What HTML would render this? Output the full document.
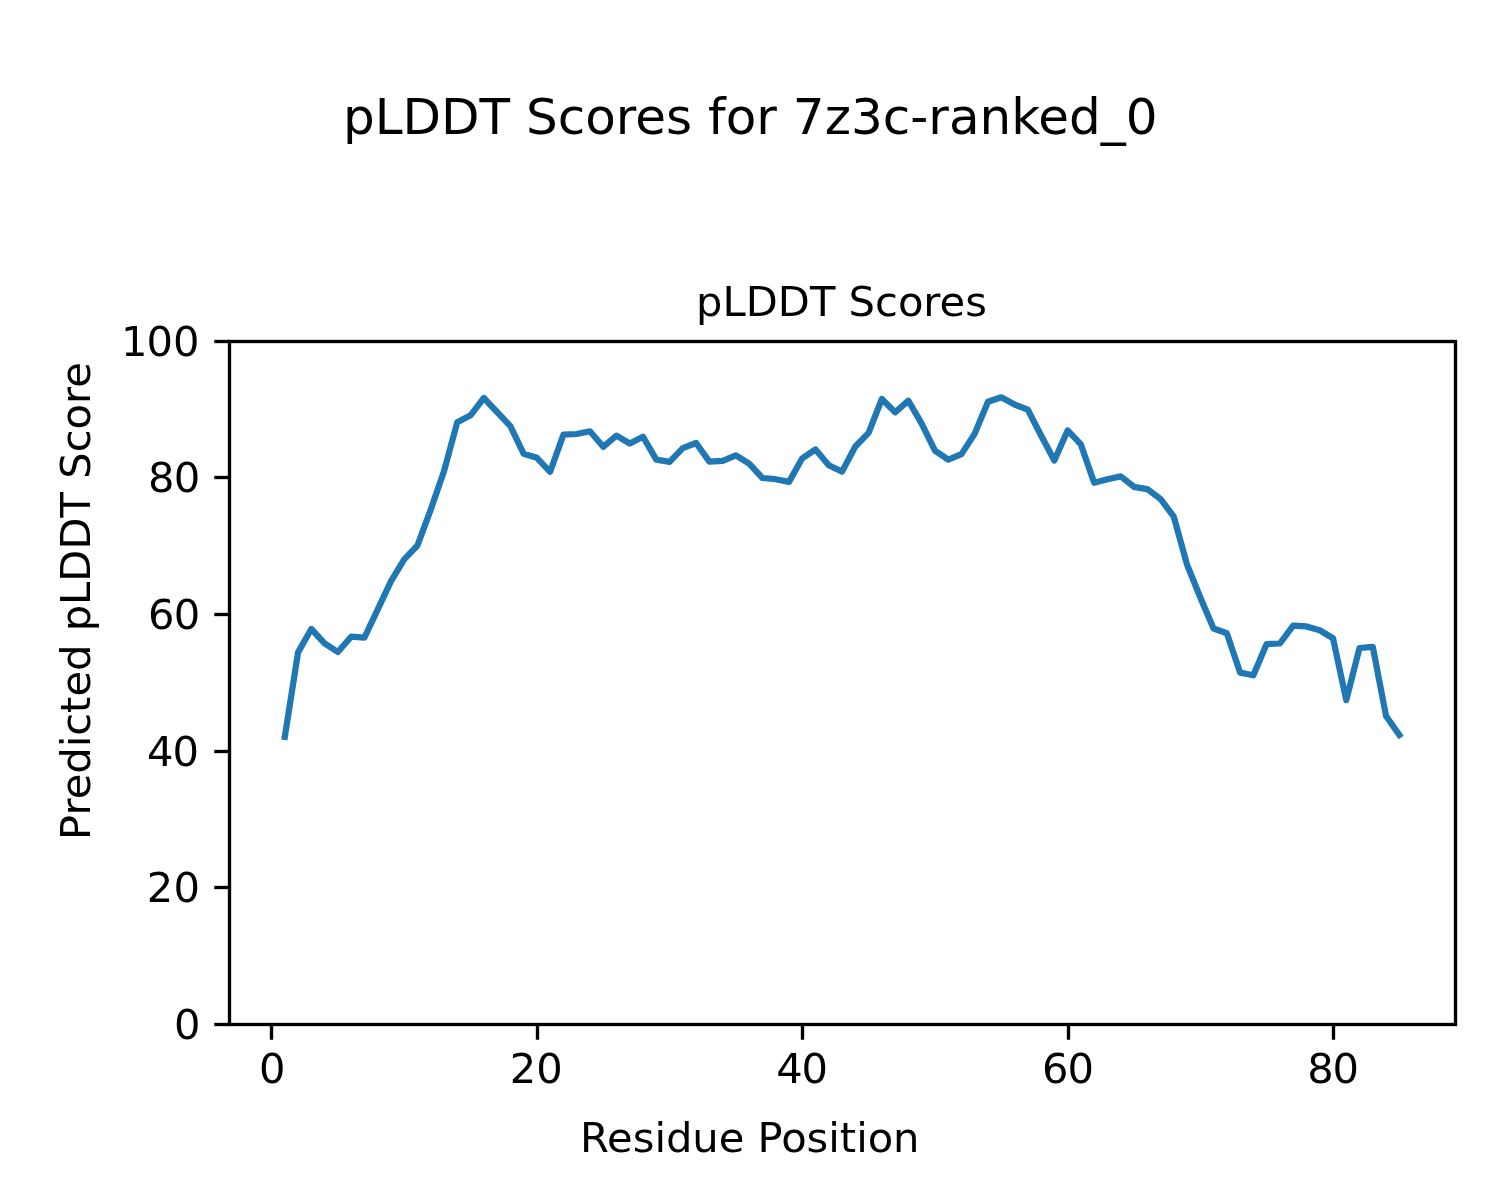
<!DOCTYPE html>
<html lang="en">
<head>
<meta charset="utf-8">
<title>pLDDT Scores for 7z3c-ranked_0</title>
<style>
html, body { margin: 0; padding: 0; background: #ffffff; }
body { width: 1500px; height: 1200px; overflow: hidden; }
svg { display: block; }
text { font-family: "DejaVu Sans", "Liberation Sans", sans-serif; fill: #000000; }
.t10 { font-size: 41.667px; }
.t12 { font-size: 50.0px; }
</style>
</head>
<body>
<svg width="1500" height="1200" viewBox="0 0 1500 1200">
<rect x="0" y="0" width="1500" height="1200" fill="#ffffff"/>
<polyline points="284.78,736.90 298.05,652.40 311.31,629.00 324.58,643.30 337.85,652.00 351.12,636.70 364.39,637.60 377.66,609.60 390.92,581.30 404.19,559.30 417.46,545.50 430.73,509.60 444.00,471.30 457.27,422.30 470.53,415.30 483.80,398.00 497.07,412.00 510.34,426.10 523.61,453.70 536.88,457.80 550.15,471.80 563.41,434.70 576.68,434.00 589.95,431.30 603.22,446.80 616.49,435.60 629.76,443.50 643.02,436.70 656.29,459.60 669.56,461.90 682.83,448.10 696.10,443.00 709.37,461.60 722.63,460.90 735.90,455.30 749.17,463.70 762.44,478.00 775.71,479.20 788.98,481.90 802.24,458.30 815.51,449.40 828.78,465.20 842.05,471.60 855.32,446.50 868.59,432.90 881.86,399.00 895.12,412.30 908.39,400.70 921.66,423.60 934.93,450.70 948.20,459.60 961.47,454.10 974.73,433.60 988.00,401.70 1001.27,397.30 1014.54,404.50 1027.81,409.70 1041.08,435.50 1054.34,460.50 1067.61,430.40 1080.88,444.40 1094.15,482.70 1107.42,479.20 1120.69,476.40 1133.95,486.80 1147.22,489.10 1160.49,498.90 1173.76,516.70 1187.03,564.70 1200.30,597.50 1213.57,628.50 1226.83,633.20 1240.10,672.60 1253.37,675.30 1266.64,644.00 1279.91,643.50 1293.18,625.60 1306.44,626.40 1319.71,630.20 1332.98,638.20 1346.25,700.20 1359.52,648.00 1372.79,646.90 1386.05,716.00 1399.32,734.90" fill="none" stroke="#1f77b4" stroke-width="6.25" stroke-linejoin="round" stroke-linecap="square"/>
<line x1="271.5" y1="1024.5" x2="271.5" y2="1039.75" stroke="#000" stroke-width="3.333"/>
<text class="t10" x="259.040" y="1083.2">0</text>
<line x1="537.5" y1="1024.5" x2="537.5" y2="1039.75" stroke="#000" stroke-width="3.333"/>
<text class="t10" x="509.690 536.315" y="1083.2">20</text>
<line x1="802.5" y1="1024.5" x2="802.5" y2="1039.75" stroke="#000" stroke-width="3.333"/>
<text class="t10" x="776.240 801.490" y="1083.2">40</text>
<line x1="1068.5" y1="1024.5" x2="1068.5" y2="1039.75" stroke="#000" stroke-width="3.333"/>
<text class="t10" x="1042.010 1067.610" y="1083.2">60</text>
<line x1="1333.5" y1="1024.5" x2="1333.5" y2="1039.75" stroke="#000" stroke-width="3.333"/>
<text class="t10" x="1307.170 1332.595" y="1083.2">80</text>
<line x1="214.25" y1="1024.5" x2="229.5" y2="1024.5" stroke="#000" stroke-width="3.333"/>
<text class="t10" x="173.930" y="1039.3">0</text>
<line x1="214.25" y1="887.5" x2="229.5" y2="887.5" stroke="#000" stroke-width="3.333"/>
<text class="t10" x="146.860 173.485" y="901.7">20</text>
<line x1="214.25" y1="751.5" x2="229.5" y2="751.5" stroke="#000" stroke-width="3.333"/>
<text class="t10" x="146.880 172.430" y="766.1">40</text>
<line x1="214.25" y1="614.5" x2="229.5" y2="614.5" stroke="#000" stroke-width="3.333"/>
<text class="t10" x="148.030 173.630" y="628.5">60</text>
<line x1="214.25" y1="477.5" x2="229.5" y2="477.5" stroke="#000" stroke-width="3.333"/>
<text class="t10" x="148.010 173.735" y="492.0">80</text>
<line x1="214.25" y1="341.5" x2="229.5" y2="341.5" stroke="#000" stroke-width="3.333"/>
<text class="t10" x="120.930 146.580 173.030" y="356.3">100</text>
<rect x="229.5" y="341.5" width="1226.0" height="683.0" fill="none" stroke="#000" stroke-width="3.333" stroke-linejoin="miter"/>
<text class="t12" x="342.990 374.740 402.615 441.115 479.615 510.240 526.115 557.740 585.240 615.865 635.365 666.115 692.240 708.115 725.740 756.365 776.990 792.865 824.740 850.990 882.740 910.240 928.365 948.990 979.615 1011.240 1038.365 1069.115 1100.865 1125.865" y="134">pLDDT Scores for 7z3c-ranked_0</text>
<text class="t10" x="696.000 722.375 745.625 777.750 809.875 835.250 848.500 875.000 897.875 923.250 939.500 965.125" y="315.7">pLDDT Scores</text>
<text class="t10" x="579.950 607.075 632.700 654.450 665.950 692.325 718.700 744.325 757.575 781.200 806.575 828.325 839.825 856.200 867.700 893.075" y="1152">Residue Position</text>
<text class="t10" x="-839.900 -815.525 -799.275 -773.650 -747.275 -735.775 -712.900 -696.525 -670.900 -644.525 -631.275 -604.900 -581.650 -549.525 -517.400 -492.025 -478.775 -452.275 -429.400 -404.025 -387.775" y="90.3" transform="rotate(-90)">Predicted pLDDT Score</text>
</svg>
</body>
</html>
